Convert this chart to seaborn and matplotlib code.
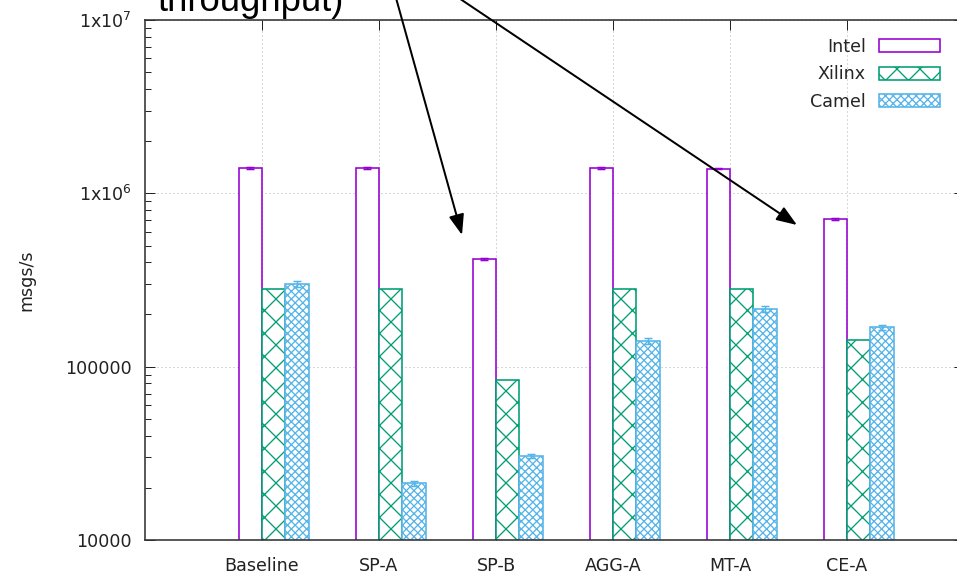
import numpy as np
import pandas as pd
import seaborn as sns
import matplotlib.pyplot as plt
from matplotlib.patches import Patch

# values (msgs/s, log scale)
categories = ["Baseline", "SP-A", "SP-B", "AGG-A", "MT-A", "CE-A"]
intel = [1.40e6, 1.40e6, 4.20e5, 1.40e6, 1.39e6, 7.10e5]
xilinx = [2.80e5, 2.80e5, 8.40e4, 2.80e5, 2.80e5, 1.43e5]
camel = [3.00e5, 2.12e4, 3.05e4, 1.41e5, 2.15e5, 1.69e5]
intel_err = [1.5e4, 1.5e4, 5e3, 1.5e4, 1.5e4, 8e3]
camel_err = [1.0e4, 6e2, 9e2, 5e3, 8e3, 6e3]

series = ["Intel", "Xilinx", "Camel"]
colors = {"Intel": "#9400d3", "Xilinx": "#009e73", "Camel": "#56b4e9"}
hatches = {"Intel": "", "Xilinx": "xx", "Camel": "xxxxxx"}

df = pd.DataFrame({
    "test": categories * 3,
    "impl": ["Intel"] * 6 + ["Xilinx"] * 6 + ["Camel"] * 6,
    "rate": intel + xilinx + camel,
})

DPI = 138
px = 72.0 / DPI  # points per pixel
FS = 17.5 * px

sns.set_theme(style="white")
plt.rcParams["font.family"] = ["DejaVu Sans"]
plt.rcParams["hatch.linewidth"] = 1.3 * px

fig = plt.figure(figsize=(957 / DPI, 582 / DPI), dpi=DPI)
ax = fig.add_axes([145 / 957, 42 / 582, 819 / 957, 520 / 582])
ax.set_yscale("log")

sns.barplot(data=df, x="test", y="rate", hue="impl", hue_order=series,
            order=categories, width=0.6, palette=colors, errorbar=None,
            legend=False, ax=ax)

for cont, name in zip(ax.containers, series):
    for bar in cont:
        bar.set_facecolor("white")
        bar.set_edgecolor(colors[name])
        bar.set_hatch(hatches[name])
        bar.set_linewidth(1.6 * px)

# small error bars on top of Intel and Camel bars
for cont, vals, errs, name in [(ax.containers[0], intel, intel_err, "Intel"),
                               (ax.containers[2], camel, camel_err, "Camel")]:
    xs = [b.get_x() + b.get_width() / 2 for b in cont]
    ax.errorbar(xs, vals, yerr=errs, fmt="none", ecolor=colors[name],
                elinewidth=1.5 * px, capsize=4 * px, capthick=1.5 * px)

ax.set_ylim(1e4, 1e7)
ax.set_xlim(-1.1, 5.9)
ax.set_xticks(np.arange(len(categories)) - 0.1)
ax.set_xticklabels(categories)
ax.set_yticks([1e4, 1e5, 1e6, 1e7])
ax.set_yticklabels(["10000", "100000", "1x10$^6$", "1x10$^7$"])
ax.yaxis.set_minor_locator(plt.matplotlib.ticker.LogLocator(base=10, subs=np.arange(2, 10)))
ax.yaxis.set_minor_formatter(plt.NullFormatter())

ax.set_xlabel("")
ax.set_ylabel("msgs/s", fontsize=FS, color="#222222")
ax.yaxis.set_label_coords(-0.134, 0.5)

ax.tick_params(axis="both", which="major", direction="in", length=10 * px,
               width=1.0 * px, labelsize=FS, colors="#222222",
               top=True, right=True, bottom=True, left=True)
ax.tick_params(axis="y", which="minor", direction="in", length=5.5 * px,
               width=1.0 * px, left=True, right=True)
ax.tick_params(axis="y", which="major", pad=13 * px)
ax.tick_params(axis="x", which="major", pad=17 * px)

ax.set_axisbelow(True)
ax.grid(True, which="major", color="#b0b0b0", linewidth=1.0 * px,
        linestyle=(0, (1, 3)))
for s in ax.spines.values():
    s.set_color("#333333")
    s.set_linewidth(1.6 * px)

handles = [Patch(facecolor="white", edgecolor=colors[n], hatch=hatches[n],
                 linewidth=1.6 * px, label=n) for n in series]
ax.legend(handles=handles, loc="upper right", bbox_to_anchor=(0.9707, 0.966),
          frameon=False, markerfirst=False, fontsize=FS, borderpad=0,
          borderaxespad=0, handlelength=3.5, handleheight=0.75,
          handletextpad=0.75, labelspacing=0.55)

# overlaid annotation from the slide
fig.text(157 / 957, (582 - 11) / 582, "throughput)", fontsize=36.5 * px,
         family="Liberation Sans", va="baseline", color="black")
arrow_kw = dict(arrowstyle="-|>,head_length=0.75,head_width=0.28",
                color="black", lw=2.0 * px, shrinkA=0, shrinkB=0)
ax.annotate("", xy=(462, 582 - 235), xytext=(391, 602),
            xycoords="figure pixels", textcoords="figure pixels",
            arrowprops=arrow_kw, annotation_clip=False)
ax.annotate("", xy=(797, 582 - 225), xytext=(432, 602),
            xycoords="figure pixels", textcoords="figure pixels",
            arrowprops=arrow_kw, annotation_clip=False)

fig.savefig("out.png", dpi=DPI)
